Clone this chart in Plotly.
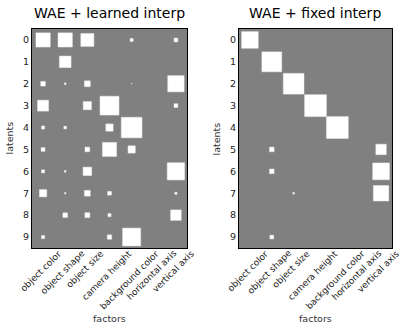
import numpy as np
import plotly.graph_objects as go

factors = ["object color", "object shape", "object size", "camera height",
           "background color", "horizontal axis", "vertical axis"]
latents = list(range(10))

# importance of each factor (columns) for each latent (rows)
learned_interp = [
    [0.42, 0.42, 0.35, 0.00, 0.020, 0.0, 0.03],
    [0.00, 0.28, 0.00, 0.00, 0.000, 0.0, 0.00],
    [0.045, 0.006, 0.07, 0.00, 0.001, 0.0, 0.55],
    [0.25, 0.00, 0.14, 0.74, 0.000, 0.0, 0.03],
    [0.02, 0.015, 0.00, 0.11, 0.88, 0.0, 0.00],
    [0.03, 0.00, 0.045, 0.41, 0.11, 0.0, 0.00],
    [0.02, 0.006, 0.15, 0.00, 0.000, 0.0, 0.62],
    [0.11, 0.004, 0.07, 0.03, 0.000, 0.0, 0.01],
    [0.00, 0.045, 0.05, 0.02, 0.000, 0.0, 0.23],
    [0.02, 0.00, 0.00, 0.04, 0.67, 0.0, 0.00],
]
fixed_interp = [
    [0.58, 0.0, 0.0, 0.0, 0.0, 0.0, 0.00],
    [0.00, 0.83, 0.0, 0.0, 0.0, 0.0, 0.00],
    [0.00, 0.0, 0.90, 0.0, 0.0, 0.0, 0.00],
    [0.00, 0.0, 0.0, 1.0, 0.0, 0.0, 0.00],
    [0.00, 0.0, 0.0, 0.0, 1.0, 0.0, 0.00],
    [0.00, 0.045, 0.0, 0.0, 0.0, 0.0, 0.23],
    [0.00, 0.045, 0.0, 0.0, 0.0, 0.0, 0.59],
    [0.00, 0.0, 0.006, 0.0, 0.0, 0.0, 0.50],
    [0.00, 0.0, 0.0, 0.0, 0.0, 0.0, 0.00],
    [0.00, 0.03, 0.0, 0.0, 0.0, 0.0, 0.00],
]
titles = ["WAE + learned interp", "WAE + fixed interp"]

FONT = "DejaVu Sans"
W, H = 416, 335
fig = go.Figure()

domains_x = [[32 / W, 187 / W], [239 / W, 392 / W]]
dom_y = [1 - 248 / H, 1 - 29 / H]


def hinton(fig, mat, ax):
    w = np.array(mat)
    max_w = 1.0
    for r in range(w.shape[0]):
        for c in range(w.shape[1]):
            if w[r, c] <= 0:
                continue
            s = np.sqrt(w[r, c] / max_w)
            fig.add_shape(type="rect", xref="x" + ax, yref="y" + ax,
                          x0=c - s / 2, x1=c + s / 2, y0=r - s / 2, y1=r + s / 2,
                          fillcolor="white", line=dict(width=0.5, color="#e8e8e8"))


for i, (mat, title) in enumerate(zip([learned_interp, fixed_interp], titles)):
    ax = "" if i == 0 else "2"
    # invisible trace so the axes get drawn
    fig.add_trace(go.Scatter(x=[0], y=[0], mode="markers", marker=dict(opacity=0),
                             hoverinfo="skip", showlegend=False,
                             xaxis="x" + ax, yaxis="y" + ax))
    hinton(fig, mat, ax)
    common = dict(showgrid=False, zeroline=False, showline=True, mirror=True,
                  linecolor="black", linewidth=1, ticks="", automargin=False)
    fig.update_layout({
        "xaxis" + ax: dict(domain=domains_x[i], range=[-0.5, 6.5], showticklabels=False,
                           anchor="y" + ax, **common),
        "yaxis" + ax: dict(domain=dom_y, range=[9.5, -0.5], tickmode="array",
                           tickvals=latents, ticktext=[str(v) for v in latents],
                           anchor="x" + ax,
                           tickfont=dict(family=FONT, size=9.5, color="#222"), **common),
    })
    # factor labels, rotated and centred under their column (matplotlib style)
    for j, name in enumerate(factors):
        fig.add_annotation(text=name, x=j - 0.1, y=1 - 247 / H, xref="x" + ax, yref="paper",
                           xanchor="center", yanchor="top", textangle=-45,
                           showarrow=False, borderpad=0,
                           font=dict(family=FONT, size=9, color="#222"))
    xc = sum(domains_x[i]) / 2
    fig.add_annotation(text=title, x=xc, y=1 - 13 / H, xref="paper", yref="paper",
                       xanchor="center", yanchor="middle", showarrow=False,
                       font=dict(family=FONT, size=14, color="black"))
    fig.add_annotation(text="factors", x=xc, y=1 - 318 / H, xref="paper", yref="paper",
                       xanchor="center", yanchor="middle", showarrow=False,
                       font=dict(family=FONT, size=9.5, color="#333"))
    fig.add_annotation(text="latents", x=domains_x[i][0] - 23 / W, y=sum(dom_y) / 2,
                       xref="paper", yref="paper", xanchor="center", yanchor="middle",
                       textangle=-90, showarrow=False,
                       font=dict(family=FONT, size=9.5, color="#333"))

fig.update_layout(width=W, height=H, margin=dict(l=0, r=0, t=0, b=0),
                  plot_bgcolor="#808080", paper_bgcolor="white", showlegend=False)
fig.write_html("out.html", config={"displayModeBar": False},
               post_script="document.body.style.margin='0px';")
